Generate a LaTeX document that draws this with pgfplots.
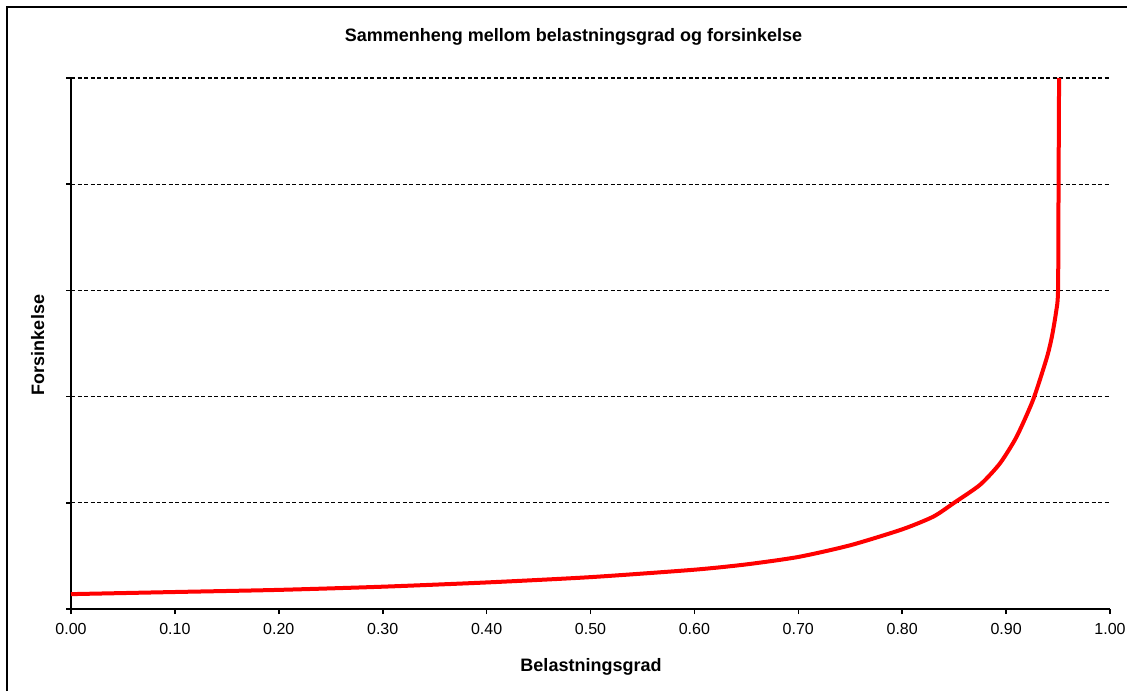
\documentclass[border=0pt]{standalone}
\usepackage{pgfplots}
\pgfplotsset{compat=1.18}
\usepackage{fontspec}
\setmainfont{Liberation Sans}

\begin{document}
\begin{tikzpicture}[x=1pt,y=1pt]
% page frame (1 unit = 1 px of the reference)
\useasboundingbox (0,0) rectangle (1127,691);
\draw[line width=1.6pt] (7,0) -- (7,684) -- (1127,684);

\begin{axis}[
    at={(71pt,82pt)}, anchor=south west,
    scale only axis,
    width=1039pt, height=531pt,
    xmin=0, xmax=1,
    ymin=0, ymax=5,
    axis lines=left,
    axis line style={-, line width=1.8pt},
    xtick={0,0.1,...,1.01},
    ytick={0,1,2,3,4,5},
    yticklabels={},
    tick align=outside,
    major tick length=5pt,
    tick style={black, line width=1.6pt},
    ymajorgrids,
    grid style={black, line width=1.2pt, dash pattern=on 4pt off 2.5pt},
    xticklabel style={font=\fontsize{16}{19}\selectfont, yshift=-6pt},
    xticklabel={\pgfmathprintnumber[fixed, fixed zerofill, precision=2]{\tick}},
    /pgf/number format/assume math mode=true,
    clip=false,
]
% delay as a function of load
\addplot[red, line width=4pt, smooth, tension=0.4] coordinates {
    (0,0.14) (0.1,0.16) (0.2,0.18) (0.3,0.21) (0.4,0.25) (0.5,0.30)
    (0.6,0.37) (0.65,0.42) (0.7,0.49) (0.75,0.60) (0.8,0.75) (0.83,0.87) (0.85,1.0)
    (0.875,1.17) (0.894,1.37) (0.91,1.62) (0.926,1.97) (0.939,2.36)
    (0.944,2.56) (0.948,2.79) (0.950,3.0) (0.9505,4.0) (0.951,5.0)
};
\end{axis}

% titles
\node[anchor=base, font=\fontsize{18}{21}\bfseries\selectfont] at (573.5,649)
    {Sammenheng mellom belastningsgrad og forsinkelse};
\node[anchor=base, font=\fontsize{18}{21}\bfseries\selectfont] at (591,20)
    {Belastningsgrad};
\node[anchor=base, rotate=90, font=\fontsize{18}{21}\bfseries\selectfont] at (44,346)
    {Forsinkelse};
\end{tikzpicture}
\end{document}
